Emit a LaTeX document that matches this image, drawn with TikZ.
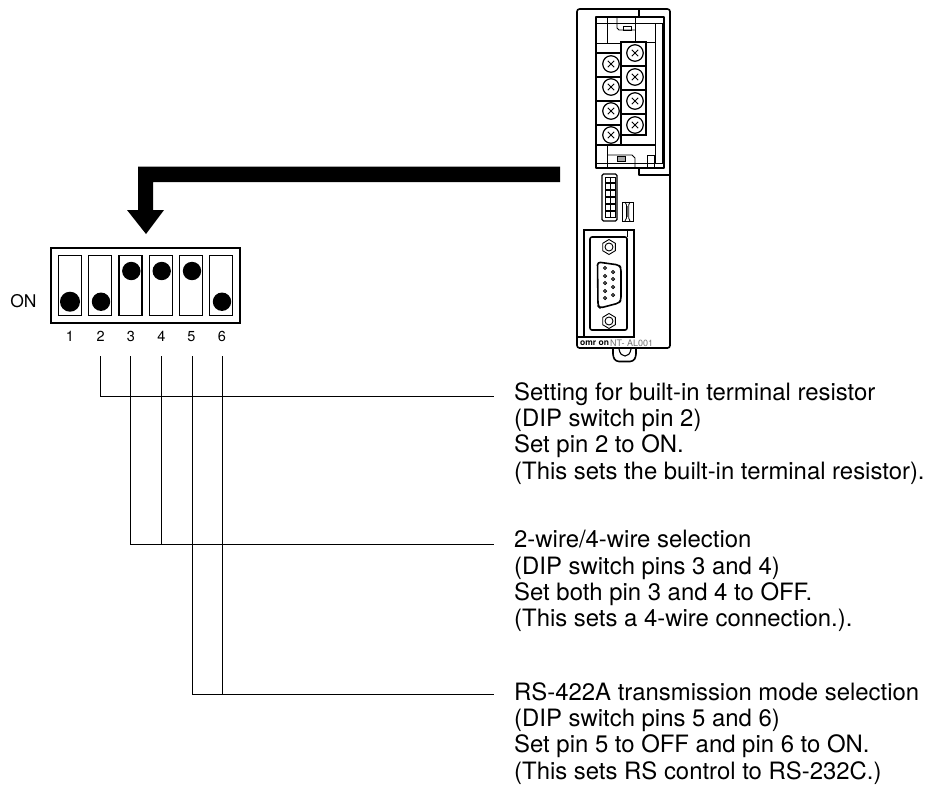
\documentclass[tikz,border=0pt]{standalone}
\usepackage{fontspec}
\setmainfont{TeX Gyre Heros}
\usetikzlibrary{calc}
\tikzset{
  thickline/.style={line width=1.6pt,line join=round},
  midline/.style={line width=1.1pt},
  thinline/.style={line width=0.8pt},
  leader/.style={line width=0.9pt,line join=miter},
  slotbox/.style={draw,line width=1.1pt,minimum width=23pt,minimum height=60.5pt,inner sep=0pt},
  pinnum/.style={font=\fontsize{14.5pt}{16pt}\selectfont,inner sep=0pt},
  note/.style={font=\fontsize{23.9pt}{26.3pt}\selectfont,align=left,anchor=north west,inner sep=0pt},
  screwhead/.style={draw,line width=1.2pt,fill=white,circle,minimum size=16.5pt,inner sep=0pt},
}
\begin{document}
\begin{tikzpicture}[x=1pt,y=-1pt]
\useasboundingbox (0,0) rectangle (929,785);
% big arrow
\fill (560,166.5) -- (138,166.5) -- (138,210) -- (127,210) -- (146,234) -- (164,210) -- (153,210) -- (153,182) -- (560,182) -- cycle;
% DIP switch (large)
\node[draw,line width=1.1pt,minimum width=189pt,minimum height=75pt,inner sep=0pt] (dip) at (145.5,285.5) {};
\node[slotbox] (s1) at (69.7,285.5) {};
\node[slotbox] (s2) at (100.2,285.5) {};
\node[slotbox] (s3) at (130.5,285.5) {};
\node[slotbox] (s4) at (160.8,285.5) {};
\node[slotbox] (s5) at (190.8,285.5) {};
\node[slotbox] (s6) at (221.2,285.5) {};
\fill (70,301.7) circle (10);
\fill (101,301.7) circle (9.2);
\fill (131.3,271) circle (9.2);
\fill (161.7,271) circle (9.2);
\fill (192,271) circle (9.2);
\fill (222,301.7) circle (9.2);
\node[font=\fontsize{17.5pt}{18pt}\selectfont,inner sep=0pt] (on) at (23.5,300.7) {ON};
\node[pinnum] (n1) at (70,336.7) {1};
\node[pinnum] (n2) at (100.7,336.7) {2};
\node[pinnum] (n3) at (131,336.7) {3};
\node[pinnum] (n4) at (161.5,336.7) {4};
\node[pinnum] (n5) at (191.5,336.7) {5};
\node[pinnum] (n6) at (222,336.7) {6};
% leaders
\coordinate (p2) at (100,356);
\coordinate (p3) at (130.7,356);
\coordinate (p4) at (161.5,356);
\coordinate (p5) at (192,356);
\coordinate (p6) at (222.7,356);
\coordinate (e1) at (494,396);
\coordinate (e2) at (494,544);
\coordinate (e3) at (494,694);
\draw[leader] (p2) |- (e1);
\draw[leader] (p3) |- (e2);
\draw[leader] (p4) -- (p4 |- e2);
\draw[leader] (p5) |- (e3);
\draw[leader] (p6) -- (p6 |- e3);
% notes
\node[note] (t1) at (514,382.3) {Setting for built-in terminal resistor\\(DIP switch pin 2)\\Set pin 2 to ON.\\(This sets the built-in terminal resistor).};
\node[note] (t2) at (514,530.3) {2-wire/4-wire selection\\(DIP switch pins 3 and 4)\\Set both pin 3 and 4 to OFF.\\(This sets a 4-wire connection.).};
\node[note] (t3) at (514,682.3) {RS-422A transmission mode selection\\(DIP switch pins 5 and 6)\\Set pin 5 to OFF and pin 6 to ON.\\(This sets RS control to RS-232C.)};
% --- device ---
\draw[thickline,rounded corners=2.5pt] (670,175) -- (670,348) -- (577,348) -- (577,9) -- (670,9) -- (670,175);
\draw[thickline] (639,9) -- (639,17);
\draw[thickline] (639,168) -- (639,175) -- (670,175);
\draw[thickline] (596,17) rectangle (664,168);
\draw[thinline] (655,23) -- (655,163) (662,23) -- (662,163);
\draw[thinline] (596,23) -- (664,23) (596,163) -- (664,163);
\draw[thinline] (607,17) -- (607,43);
\draw[thinline] (617,17) -- (617,28) -- (619,30) -- (635,30);
\draw[thinline] (635,17) -- (635,42);
\draw[thinline] (623,26) rectangle (631,30);
\draw[thinline] (596,43) -- (621,43);
\draw[midline] (621,42) rectangle (646,135);
\draw[thinline] (646,42) -- (655,42);
\draw[midline] (596,53) -- (621,53) (621,135) -- (621,145);
\draw[midline] (596,145) -- (655,145);
\foreach \yy in {76,100,124} {\draw[thinline] (596,\yy) -- (621,\yy) (596,\yy+1.6) -- (621,\yy+1.6);}
\foreach \yy in {65,89,113} {\draw[thinline] (621,\yy) -- (646,\yy) (621,\yy+1.6) -- (646,\yy+1.6);}
\draw[thinline] (607,145) -- (607,168);
\draw[thinline] (607,155) -- (632,155) -- (635,158) -- (635,168);
\draw[thinline,fill=black!35] (617,156.5) rectangle (625,161);
\draw[thinline] (647,168) -- (647,155) -- (654,155) -- (654,168);
\foreach \nm/\xx/\yy in {a/611/64,b/611/87,c/611/111,d/611/135,e/635/53,f/635/77,g/635/101,h/635/125} {
  \node[screwhead] (sc\nm) at (\xx,\yy) {};
  \draw[line width=1pt] (\xx-3.2,\yy-3.2) -- (\xx+3.2,\yy+3.2) (\xx-3.2,\yy+3.2) -- (\xx+3.2,\yy-3.2);
}
% small dip
\draw[midline,rounded corners=1.5pt] (602,174) rectangle (617,221);
\foreach \i in {0,...,5} {
  \draw[line width=0.9pt] (605,177+6.9*\i) rectangle (610.3,182.5+6.9*\i);
  \draw[line width=0.9pt] (610.3,177+6.9*\i) rectangle (615.5,182.5+6.9*\i);
}
\draw[thinline] (622,202) rectangle (633,221);
\draw[thinline] (625,202) -- (626.5,205) -- (626.5,218) -- (625,221) (630,202) -- (628.7,205) -- (628.7,218) -- (630,221);
\fill[black!60] (626.5,206) rectangle (628.7,217);
% connector panel
\draw[midline] (577,337) -- (634,337) -- (634,230) -- (584,230) -- (584,337);
\draw[thinline] (627.5,230) -- (627.5,237);
\draw[thickline,rounded corners=2pt] (590,237) rectangle (627,330);
\foreach \nm/\yy in {u/247,v/321} {
  \draw[line width=0.9pt] (609,\yy-7.5) -- (615.3,\yy-3.7) -- (615.3,\yy+3.7) -- (609,\yy+7.5) -- (602.7,\yy+3.7) -- (602.7,\yy-3.7) -- cycle;
  \draw[line width=0.9pt] (609,\yy) circle (4);
}
\draw[thickline,rounded corners=3pt] (597.5,262) -- (619,265) -- (621,268) -- (621,300) -- (619,303) -- (600,308) -- (598,306) -- cycle;
\foreach \yy in {268,276,283,291,298} {\draw[line width=0.9pt] (605,\yy) circle (1.6);}
\foreach \yy in {272,279,287,295} {\draw[line width=0.9pt] (613,\yy) circle (1.6);}
\node[font=\fontsize{8.5pt}{9pt}\selectfont\bfseries,inner sep=0pt,anchor=west] (logo) at (580,343) {omr on};
\node[font=\fontsize{9pt}{9pt}\selectfont,text=black!55,inner sep=0pt,anchor=west] (model) at (610,343.5) {NT- AL001};
% foot
\draw[thickline,rounded corners=3pt] (613,349) -- (613,357) -- (616,361.5) -- (633,361.5) -- (636,357) -- (636,349);
\draw[midline] (619,349) .. controls (620,354) and (622,356) .. (625,356) .. controls (628,356) and (630,354) .. (631,349);
\end{tikzpicture}
\end{document}
